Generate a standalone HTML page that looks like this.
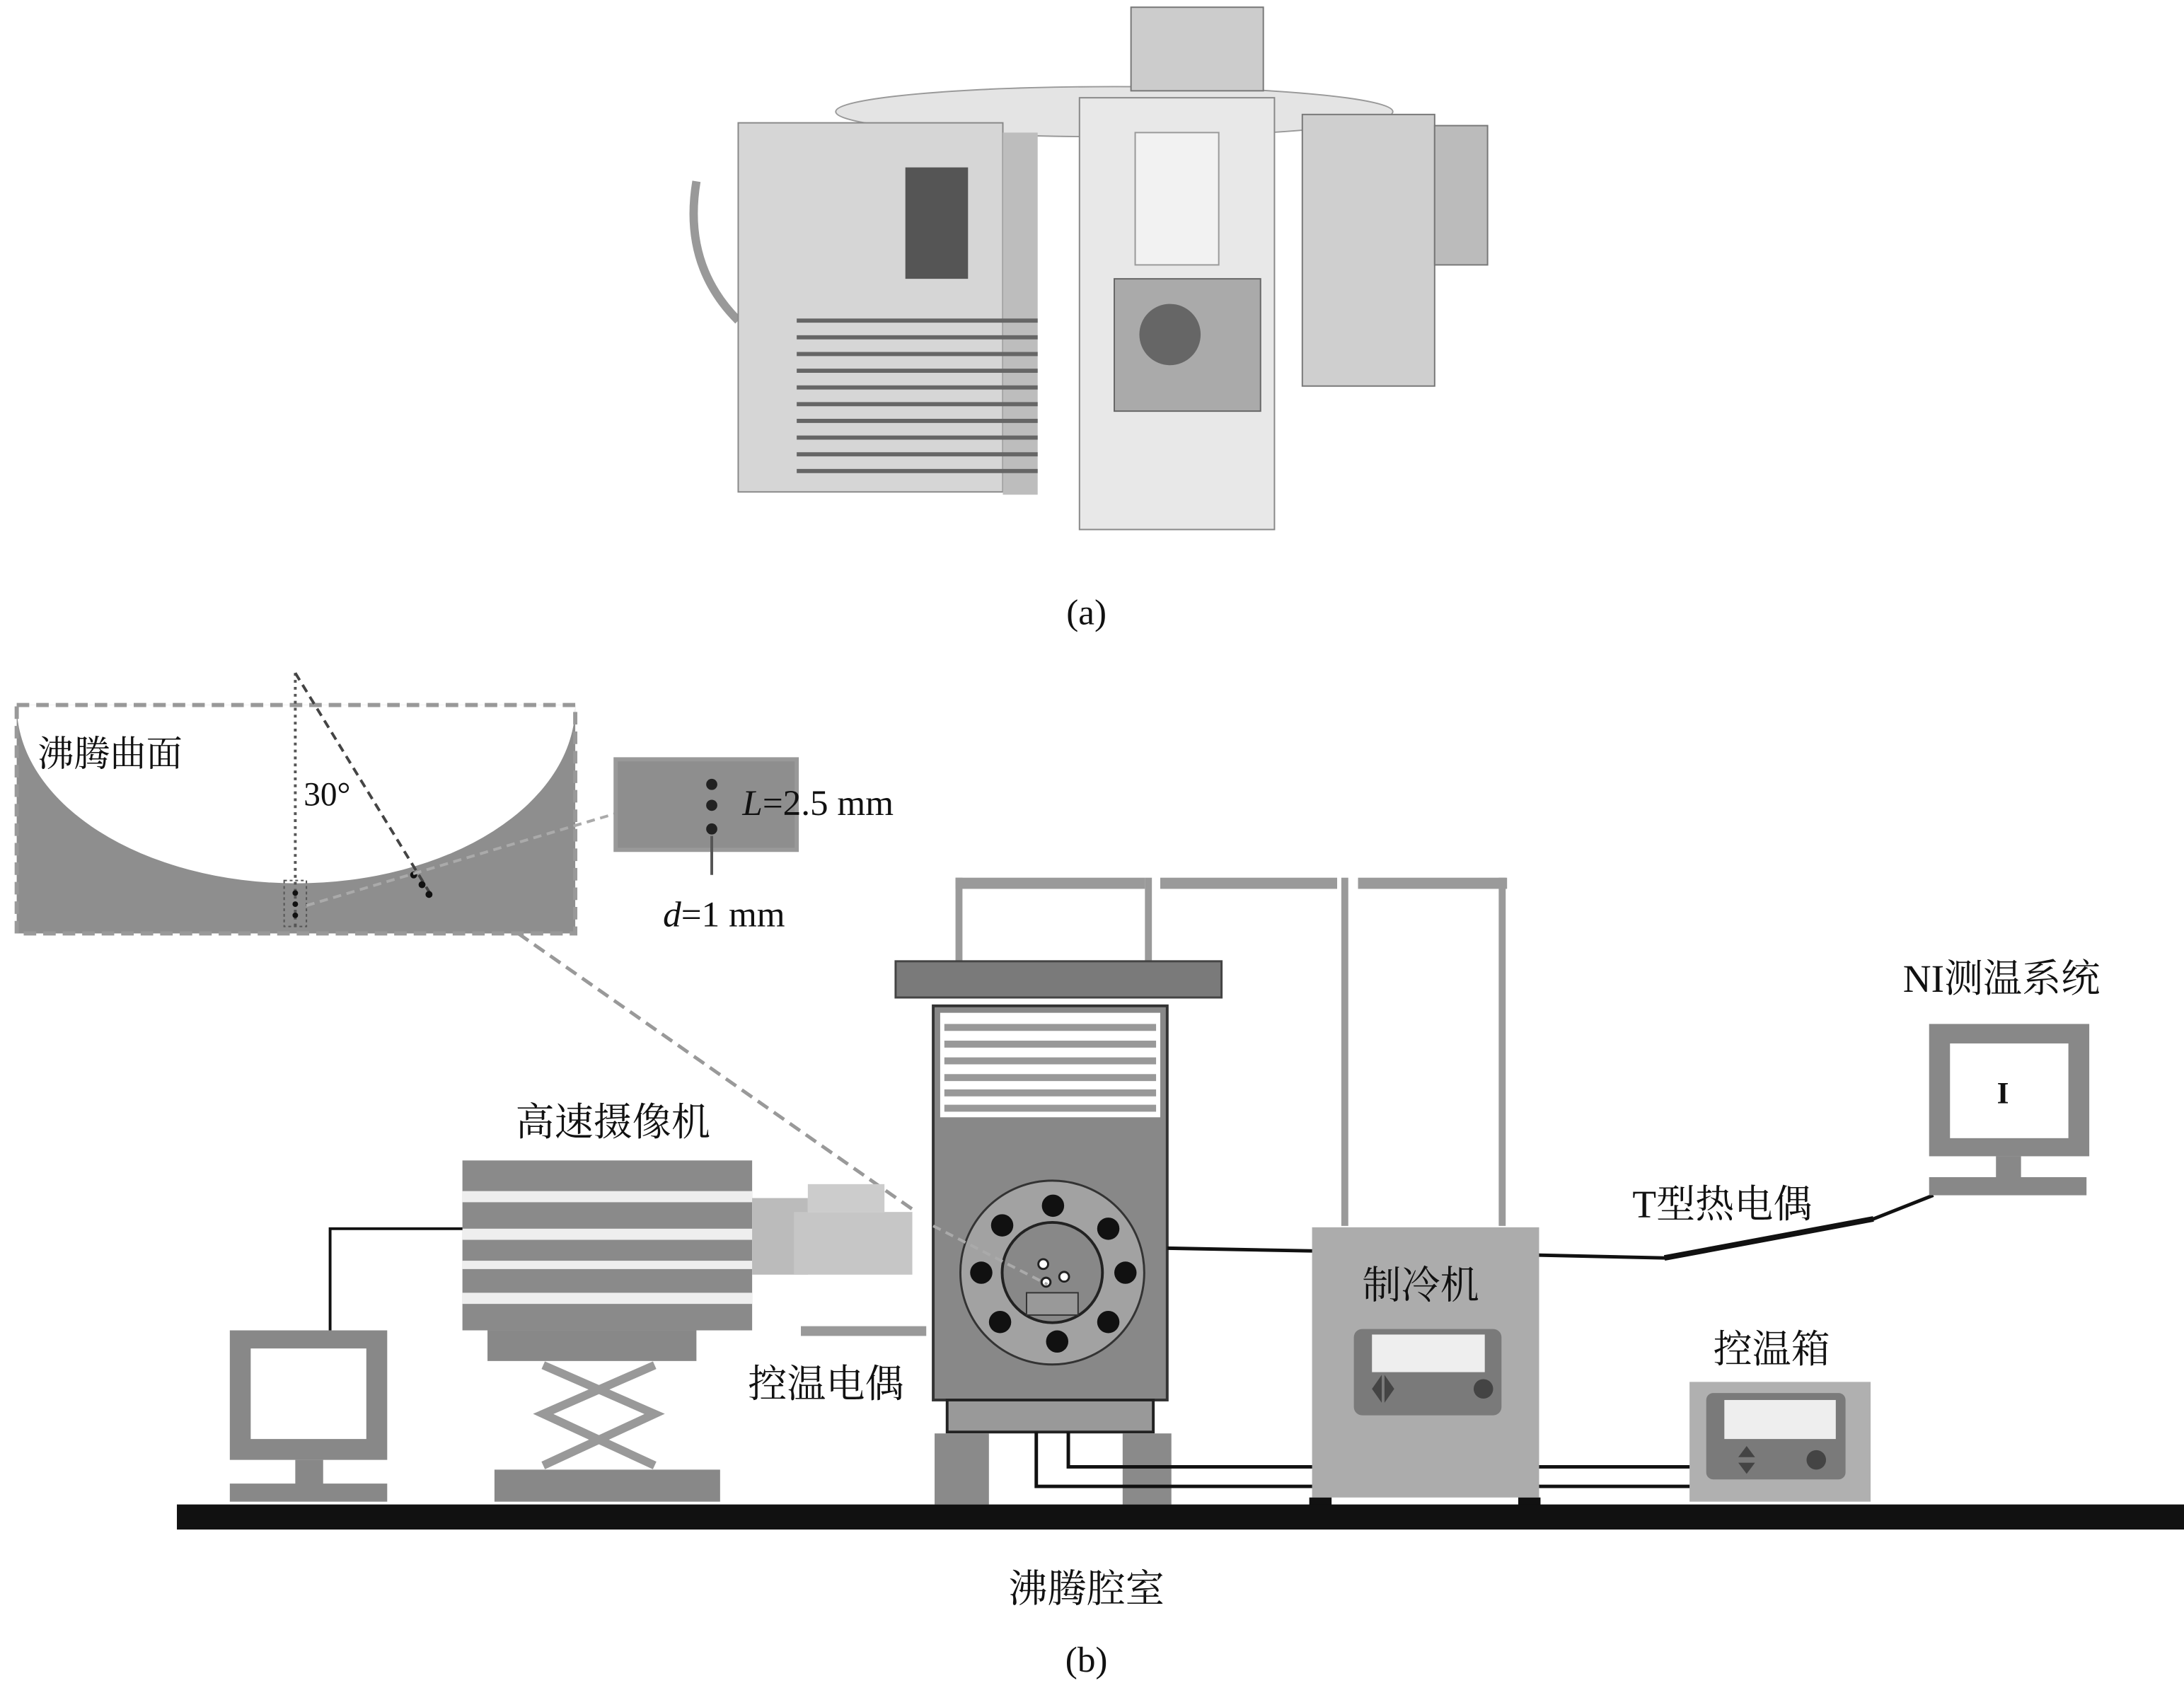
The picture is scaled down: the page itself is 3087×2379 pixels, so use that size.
<!DOCTYPE html>
<html><head><meta charset="utf-8"><style>html,body{margin:0;padding:0;background:#fff}svg{display:block}
text{font-family:"Liberation Serif","Noto Serif CJK SC",serif;fill:#111}</style></head><body>
<svg width="3087" height="2379" viewBox="0 0 1568 1208" xmlns="http://www.w3.org/2000/svg">
<!-- (a) photo approximation -->
<ellipse cx="800" cy="80" rx="200" ry="18" fill="#e4e4e4" stroke="#999"/>
<rect x="812" y="5" width="95" height="60" fill="#ccc" stroke="#777"/>
<path d="M500 130 Q490 190 530 230" stroke="#999" stroke-width="6" fill="none"/>
<rect x="530" y="88" width="190" height="265" fill="#d6d6d6" stroke="#888"/>
<rect x="720" y="95" width="25" height="260" fill="#bdbdbd"/>
<rect x="650" y="120" width="45" height="80" fill="#555"/>
<g stroke="#666" stroke-width="3">
<line x1="572" y1="230" x2="745" y2="230"/><line x1="572" y1="242" x2="745" y2="242"/><line x1="572" y1="254" x2="745" y2="254"/><line x1="572" y1="266" x2="745" y2="266"/><line x1="572" y1="278" x2="745" y2="278"/><line x1="572" y1="290" x2="745" y2="290"/><line x1="572" y1="302" x2="745" y2="302"/><line x1="572" y1="314" x2="745" y2="314"/><line x1="572" y1="326" x2="745" y2="326"/><line x1="572" y1="338" x2="745" y2="338"/></g>
<rect x="775" y="70" width="140" height="310" fill="#e8e8e8" stroke="#888"/>
<rect x="815" y="95" width="60" height="95" fill="#f2f2f2" stroke="#999"/>
<rect x="800" y="200" width="105" height="95" fill="#aaa" stroke="#666"/>
<circle cx="840" cy="240" r="22" fill="#666"/>
<rect x="935" y="82" width="95" height="195" fill="#cfcfcf" stroke="#777"/>
<rect x="1030" y="90" width="38" height="100" fill="#bbb" stroke="#777"/>
<text x="780" y="448" font-size="26" text-anchor="middle">(a)</text>

<!-- (b) inset -->
<rect x="12" y="506" width="401" height="164" fill="#8e8e8e"/>
<path d="M12 506 A200.5 128 0 0 0 413 506 Z" fill="#fff"/>
<rect x="12" y="506" width="401" height="164" fill="none" stroke="#999" stroke-width="3" stroke-dasharray="9 5"/>
<text x="27" y="550" font-size="26">沸腾曲面</text>
<line x1="212" y1="483" x2="212" y2="665" stroke="#555" stroke-width="2" stroke-dasharray="2 3"/>
<line x1="212" y1="483" x2="308" y2="640" stroke="#444" stroke-width="2" stroke-dasharray="6 4"/>
<text x="218" y="578" font-size="24">30°</text>
<rect x="204" y="632" width="16" height="33" fill="none" stroke="#555" stroke-dasharray="2 2"/>
<circle cx="212" cy="641" r="2" fill="#111"/><circle cx="212" cy="649" r="2" fill="#111"/><circle cx="212" cy="657" r="2" fill="#111"/>
<circle cx="297" cy="628" r="2.5" fill="#111"/><circle cx="303" cy="635" r="2.5" fill="#111"/><circle cx="308" cy="642" r="2.5" fill="#111"/>
<line x1="220" y1="650" x2="445" y2="583" stroke="#aaa" stroke-width="2" stroke-dasharray="6 4"/>
<rect x="442" y="545" width="130" height="65" fill="#8e8e8e" stroke="#999" stroke-width="3"/>
<circle cx="511" cy="563" r="4" fill="#222"/><circle cx="511" cy="578" r="4" fill="#222"/><circle cx="511" cy="595" r="4" fill="#222"/>
<line x1="511" y1="600" x2="511" y2="628" stroke="#555" stroke-width="2"/>
<text x="533" y="585" font-size="26"><tspan font-style="italic">L</tspan>=2.5 mm</text>
<text x="476" y="665" font-size="26"><tspan font-style="italic">d</tspan>=1  mm</text>
<line x1="372" y1="670" x2="655" y2="868" stroke="#999" stroke-width="2.5" stroke-dasharray="9 5"/>

<!-- frame -->
<g fill="#9a9a9a">
<rect x="686" y="630" width="136" height="8"/><rect x="833" y="630" width="127" height="8"/><rect x="975" y="630" width="107" height="8"/>
<rect x="686" y="630" width="5" height="62"/><rect x="822" y="630" width="5" height="62"/>
<rect x="963" y="630" width="5" height="250"/><rect x="1076" y="630" width="5" height="250"/></g>
<rect x="643" y="690" width="234" height="26" fill="#7a7a7a" stroke="#444" stroke-width="1.5"/>
<!-- chamber -->
<rect x="670" y="722" width="168" height="283" fill="#888" stroke="#333" stroke-width="2"/>
<rect x="675" y="727" width="158" height="75" fill="#fff"/>
<g fill="#999"><rect x="678" y="735" width="152" height="5"/><rect x="678" y="747" width="152" height="5"/><rect x="678" y="759" width="152" height="5"/><rect x="678" y="771" width="152" height="5"/><rect x="678" y="782" width="152" height="5"/><rect x="678" y="793" width="152" height="5"/></g>
<circle cx="755.5" cy="913.5" r="66" fill="#a2a2a2" stroke="#333" stroke-width="1.5"/>
<circle cx="755.5" cy="913.5" r="36" fill="#888" stroke="#222" stroke-width="2"/>
<g fill="#111"><circle cx="756" cy="865.5" r="8"/><circle cx="719.5" cy="879.6" r="8"/><circle cx="795.7" cy="882" r="8"/><circle cx="704.5" cy="913.6" r="8"/><circle cx="808" cy="913.6" r="8"/><circle cx="718" cy="949" r="8"/><circle cx="795.7" cy="949" r="8"/><circle cx="759" cy="963" r="8"/></g>
<rect x="737" y="928" width="37" height="16" fill="#999" stroke="#333"/>
<circle cx="749" cy="907.4" r="3.5" fill="#fff" stroke="#222" stroke-width="1.5"/><circle cx="764" cy="916.5" r="3.5" fill="#fff" stroke="#222" stroke-width="1.5"/><circle cx="751" cy="920.4" r="3.2" fill="#fff" stroke="#222" stroke-width="1.5"/>
<line x1="670" y1="880" x2="752" y2="922" stroke="#aaa" stroke-width="2" stroke-dasharray="6 4"/>
<rect x="680" y="1005" width="148" height="23" fill="#999" stroke="#222" stroke-width="2"/>
<rect x="671" y="1029" width="39" height="51" fill="#8a8a8a"/><rect x="806" y="1029" width="35" height="51" fill="#8a8a8a"/>
<!-- wires -->
<g stroke="#111" stroke-width="2.5" fill="none">
<path d="M767 1028 V1053 H1215"/><path d="M744 1028 V1067 H1215"/>
<path d="M838 896 L1105 901 L1195 903 L1345 875 L1388 858"/></g>
<line x1="1195" y1="903" x2="1345" y2="875" stroke="#111" stroke-width="4"/>
<!-- chiller -->
<rect x="942" y="881" width="163" height="194" fill="#acacac"/>
<rect x="972" y="954" width="106" height="62" rx="6" fill="#7a7a7a"/>
<rect x="985" y="958" width="81" height="27" fill="#eee"/>
<circle cx="1065" cy="997" r="7" fill="#444"/>
<path d="M985 997 l7 -10 v20 z M994 987 l7 10 l-7 10 z" fill="#444"/>
<text x="1020" y="932" font-size="28" text-anchor="middle">制冷机</text>
<rect x="940" y="1075" width="16" height="10" fill="#111"/><rect x="1090" y="1075" width="16" height="10" fill="#111"/>
<!-- temp box -->
<rect x="1213" y="992" width="130" height="86" fill="#b0b0b0"/>
<rect x="1225" y="1000" width="100" height="62" rx="5" fill="#7a7a7a"/>
<rect x="1238" y="1005" width="80" height="28" fill="#eee"/>
<circle cx="1304" cy="1048" r="7" fill="#444"/>
<path d="M1248 1046 l6 -8 l6 8 z M1248 1050 l6 8 l6 -8 z" fill="#444"/>
<text x="1272" y="978" font-size="28" text-anchor="middle">控温箱</text>
<!-- NI monitor -->
<rect x="1385" y="735" width="115" height="95" fill="#888"/>
<rect x="1400" y="749" width="85" height="68" fill="#fff"/>
<text x="1438" y="792" font-size="22" text-anchor="middle" font-weight="bold">I</text>
<rect x="1433" y="830" width="18" height="16" fill="#888"/>
<rect x="1385" y="845" width="113" height="13" fill="#888"/>
<text x="1437" y="712" font-size="28" text-anchor="middle">NI测温系统</text>
<text x="1172" y="874" font-size="28">T型热电偶</text>
<!-- camera -->
<rect x="332" y="833" width="208" height="122" fill="#8a8a8a"/>
<g fill="#eee"><rect x="332" y="855" width="208" height="8"/><rect x="332" y="882" width="208" height="8"/><rect x="332" y="905" width="208" height="6"/><rect x="332" y="928" width="208" height="8"/></g>
<rect x="540" y="860" width="40" height="55" fill="#bbb"/>
<rect x="580" y="850" width="55" height="20" fill="#ccc"/>
<rect x="570" y="870" width="85" height="45" fill="#c6c6c6"/>
<text x="440" y="815" font-size="28" text-anchor="middle">高速摄像机</text>
<rect x="350" y="955" width="150" height="22" fill="#888"/>
<g stroke="#999" stroke-width="6" fill="none"><path d="M390 980 L470 1015 L390 1052 M470 980 L390 1015 L470 1052"/></g>
<rect x="355" y="1055" width="162" height="23" fill="#888"/>
<rect x="575" y="952" width="90" height="7" fill="#999"/>
<text x="537" y="1003" font-size="28">控温电偶</text>
<!-- left monitor -->
<path d="M237 955 V882 H332" stroke="#111" stroke-width="2" fill="none"/>
<rect x="165" y="955" width="113" height="93" fill="#888"/>
<rect x="180" y="968" width="83" height="65" fill="#fff"/>
<rect x="212" y="1048" width="20" height="18" fill="#888"/>
<rect x="165" y="1065" width="113" height="13" fill="#888"/>
<!-- ground -->
<rect x="127" y="1080" width="1441" height="18" fill="#111"/>
<text x="780" y="1150" font-size="28" text-anchor="middle">沸腾腔室</text>
<text x="780" y="1200" font-size="26" text-anchor="middle">(b)</text>
</svg></body></html>
